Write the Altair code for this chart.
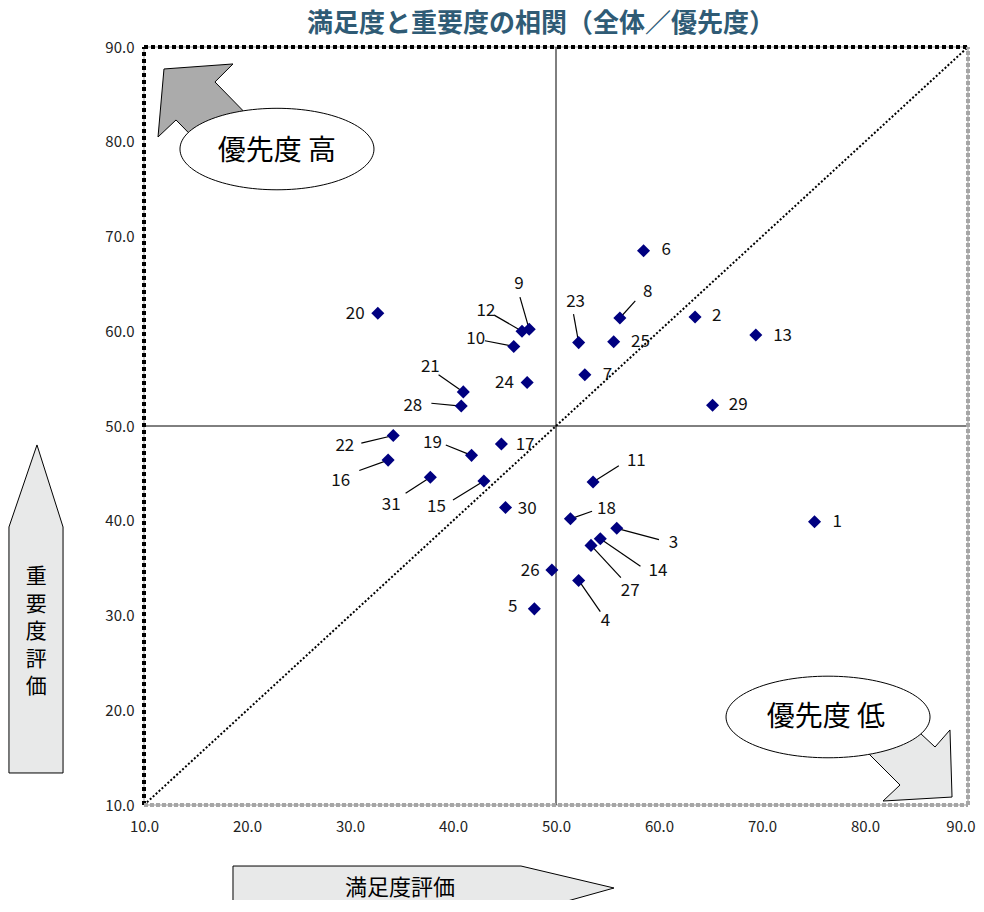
import altair as alt
import pandas as pd

FONT = "Noto Sans CJK JP"
TITLE_FONT = "Liberation Sans, Noto Sans CJK JP"

# ---- data -------------------------------------------------------------
ids = list(range(1, 32))
satisfaction = [75.1, 63.5, 55.9, 52.2, 47.9, 58.5, 52.8, 56.2, 47.4, 45.9,
                53.6, 46.7, 69.4, 54.3, 43.0, 33.7, 44.7, 51.4, 41.8, 32.7,
                41.0, 34.2, 52.2, 47.2, 55.6, 49.6, 53.4, 40.8, 65.2, 45.1,
                37.8]
importance = [39.9, 61.5, 39.2, 33.7, 30.7, 68.5, 55.4, 61.4, 60.2, 58.4,
              44.1, 60.0, 59.6, 38.1, 44.2, 46.4, 48.1, 40.2, 46.9, 61.9,
              53.6, 49.0, 58.8, 54.6, 58.9, 34.8, 37.4, 52.1, 52.2, 41.4,
              44.6]

# label anchor (data units)
label_x = [77.3, 65.6, 61.4, 54.8, 45.8, 60.7, 55.0, 58.9, 46.4, 42.2,
           57.8, 43.2, 72.0, 59.9, 38.4, 29.1, 47.0, 54.9, 38.0, 30.5,
           37.8, 29.5, 51.9, 45.0, 58.2, 47.5, 57.2, 36.1, 67.7, 47.2,
           34.0]
label_y = [39.9, 61.6, 37.7, 29.4, 30.9, 68.6, 55.4, 64.1, 65.0, 59.2,
           46.3, 62.1, 59.5, 34.7, 41.5, 44.2, 48.0, 41.2, 48.2, 61.8,
           56.2, 47.9, 63.1, 54.5, 58.9, 34.7, 32.6, 52.1, 52.2, 41.2,
           41.7]

# leader lines (start near label, end at point)
leader_ids = [9, 12, 10, 21, 28, 23, 8, 22, 19, 16, 31, 15, 11, 18, 3, 14, 27, 4]
leader_x0 = [46.5, 44.0, 43.1, 38.6, 37.9, 51.7, 57.7, 31.1, 39.3, 30.9,
             35.4, 40.0, 56.1, 53.5, 60.0, 58.2, 56.3, 54.3]
leader_y0 = [63.6, 61.7, 59.0, 55.4, 52.4, 61.8, 63.2, 48.2, 48.0, 45.3,
             42.9, 42.2, 45.8, 41.0, 38.0, 35.2, 34.0, 30.4]

tick_values = [10, 20, 30, 40, 50, 60, 70, 80, 90]

title_text = "満足度と重要度の相関（全体／優先度）"
x_title = "満足度評価"
y_title = ["重", "要", "度", "評", "価"]
high_text = "優先度 高"
low_text = "優先度 低"

# decorative shapes (data units)
arrow_hi_x = [11.94, 18.64, 16.89, 21.26, 17.48, 13.11, 11.36, 11.94]
arrow_hi_y = [87.68, 88.21, 86.31, 81.45, 77.44, 82.30, 80.50, 87.68]
arrow_lo_x = [88.45, 88.25, 86.80, 82.43, 79.03, 83.40, 81.75, 88.45]
arrow_lo_y = [10.84, 17.92, 16.12, 20.55, 16.86, 12.11, 10.42, 10.84]
arrow_y_x = [-0.39, 2.14, 2.14, -3.11, -3.11, -0.39]
arrow_y_y = [48.0, 39.34, 13.38, 13.38, 39.34, 48.0]
arrow_x_x = [18.64, 46.6, 55.63, 46.6, 18.64, 18.64]
arrow_x_y = [3.56, 3.56, 1.24, -1.5, -1.5, 3.56]

# ---- tables -----------------------------------------------------------
pts = pd.DataFrame({"id": ids, "sat": satisfaction, "imp": importance,
                    "lx": label_x, "ly": label_y})
lead = pd.DataFrame({"id": leader_ids, "x0": leader_x0, "y0": leader_y0})
lead = lead.merge(pts[["id", "sat", "imp"]], on="id")

def poly(xs, ys):
    return pd.DataFrame({"x": xs, "y": ys, "o": list(range(len(xs)))})

xs = alt.Scale(domain=[10, 90], nice=False, zero=False)
ys = alt.Scale(domain=[10, 90], nice=False, zero=False)

x_axis = alt.Axis(values=tick_values, format=".1f", ticks=False, domain=False,
                  grid=False, labelFont=FONT, labelFontSize=15,
                  labelColor="#222", labelPadding=14, title=None,
                  labelAlign={"condition": {"test": "datum.value == 90", "value": "right"},
                              "value": "center"},
                  labelOffset={"condition": {"test": "datum.value == 90", "value": 7},
                               "value": 0})
y_axis = alt.Axis(values=tick_values, format=".1f", ticks=False, domain=False,
                  grid=False, labelFont=FONT, labelFontSize=15,
                  labelColor="#222", labelPadding=10, title=None)

X = lambda f: alt.X(f, type="quantitative", scale=xs, axis=x_axis)
Y = lambda f: alt.Y(f, type="quantitative", scale=ys, axis=y_axis)

# borders
frame = pd.DataFrame({
    "x": [10, 10, 10, 90], "x2": [90, 10, 90, 90],
    "y": [90, 10, 10, 10], "y2": [90, 90, 10, 90],
    "side": ["top", "left", "bottom", "right"],
})
thin = alt.Chart(frame).mark_rule(color="#999", strokeWidth=1).encode(
    x=X("x"), x2="x2", y=Y("y"), y2="y2")
dark = alt.Chart(frame[frame.side.isin(["top", "left"])]).mark_rule(
    color="black", strokeWidth=4, strokeDash=[4, 3]).encode(
    x=X("x"), x2="x2", y=Y("y"), y2="y2")
grey = alt.Chart(frame[frame.side.isin(["bottom", "right"])]).mark_rule(
    color="#A6A6A6", strokeWidth=4, strokeDash=[4, 2]).encode(
    x=X("x"), x2="x2", y=Y("y"), y2="y2")

cross = alt.Chart(pd.DataFrame({"x": [50, 10], "x2": [50, 90],
                                "y": [10, 50], "y2": [90, 50]})).mark_rule(
    color="black", strokeWidth=1).encode(x=X("x"), x2="x2", y=Y("y"), y2="y2")

diag = alt.Chart(pd.DataFrame({"x": [10], "x2": [90], "y": [10], "y2": [90]})).mark_rule(
    color="black", strokeWidth=2, strokeDash=[2, 2]).encode(
    x=X("x"), x2="x2", y=Y("y"), y2="y2")

def shape(xs_, ys_, fill):
    return alt.Chart(poly(xs_, ys_)).mark_line(
        fill=fill, stroke="black", strokeWidth=1, interpolate="linear").encode(
        x=X("x"), y=Y("y"), order="o:Q")

ELL = ("M-1,0C-1,-0.232,-0.552,-0.42,0,-0.42C0.552,-0.42,1,-0.232,1,0"
       "C1,0.232,0.552,0.42,0,0.42C-0.552,0.42,-1,0.232,-1,0Z")
ELL2 = ("M-1,0C-1,-0.221,-0.552,-0.40,0,-0.40C0.552,-0.40,1,-0.221,1,0"
        "C1,0.221,0.552,0.40,0,0.40C-0.552,0.40,-1,0.221,-1,0Z")

ell1 = alt.Chart(pd.DataFrame({"x": [22.91], "y": [79.23]})).mark_point(
    shape=ELL, size=194 * 194, filled=True, fill="white", stroke="black",
    strokeWidth=1, opacity=1).encode(x=X("x"), y=Y("y"))
ell2 = alt.Chart(pd.DataFrame({"x": [76.41], "y": [19.29]})).mark_point(
    shape=ELL2, size=204 * 204, filled=True, fill="white", stroke="black",
    strokeWidth=1, opacity=1).encode(x=X("x"), y=Y("y"))

hi_txt = alt.Chart(pd.DataFrame({"x": [22.91], "y": [78.95], "t": [high_text]})).mark_text(
    font=FONT, fontSize=28, color="black").encode(x=X("x"), y=Y("y"), text="t:N")
lo_txt = alt.Chart(pd.DataFrame({"x": [76.2], "y": [19.2], "t": [low_text]})).mark_text(
    font=FONT, fontSize=28, color="black").encode(x=X("x"), y=Y("y"), text="t:N")

xt = alt.Chart(pd.DataFrame({"x": [34.85], "y": [1.24], "t": [x_title]})).mark_text(
    font=FONT, fontSize=22, color="black").encode(x=X("x"), y=Y("y"), text="t:N")
yt = alt.Chart(pd.DataFrame({"x": [-0.45], "y": [34.06]})).mark_text(
    font=FONT, fontSize=21, color="black", lineHeight=27.5, baseline="middle").encode(
    x=X("x"), y=Y("y"), text=alt.value(y_title))

leaders = alt.Chart(lead).mark_rule(color="black", strokeWidth=1.2).encode(
    x=X("x0"), y=Y("y0"), x2="sat", y2="imp")

points = alt.Chart(pts).mark_point(shape="diamond", filled=True, color="#000080",
                                   size=170, opacity=1).encode(x=X("sat"), y=Y("imp"))

labels = alt.Chart(pts).mark_text(font=FONT, fontSize=17, color="#111").encode(
    x=X("lx"), y=Y("ly"), text="id:N")

chart = alt.layer(
    thin, cross, diag,
    shape(arrow_hi_x, arrow_hi_y, "#ABABAB"),
    shape(arrow_lo_x, arrow_lo_y, "#E8E9E9"),
    ell1, ell2, hi_txt, lo_txt,
    dark, grey,
    leaders, points, labels,
    shape(arrow_y_x, arrow_y_y, "#E8E9E9"),
    shape(arrow_x_x, arrow_x_y, "#E8E9E9"),
    xt, yt,
).properties(
    width=824, height=758,
    padding={"left": 136, "top": 39, "right": 8, "bottom": 95},
    autosize=alt.AutoSizeParams(type="none"),
    title=alt.TitleParams(title_text, font=TITLE_FONT, fontSize=26, fontWeight="bold",
                          color="#2F5B75", anchor="middle", dx=-15, offset=3),
).configure_view(stroke=None)

chart.save("out.html", embed_options={"renderer": "svg", "actions": False})
